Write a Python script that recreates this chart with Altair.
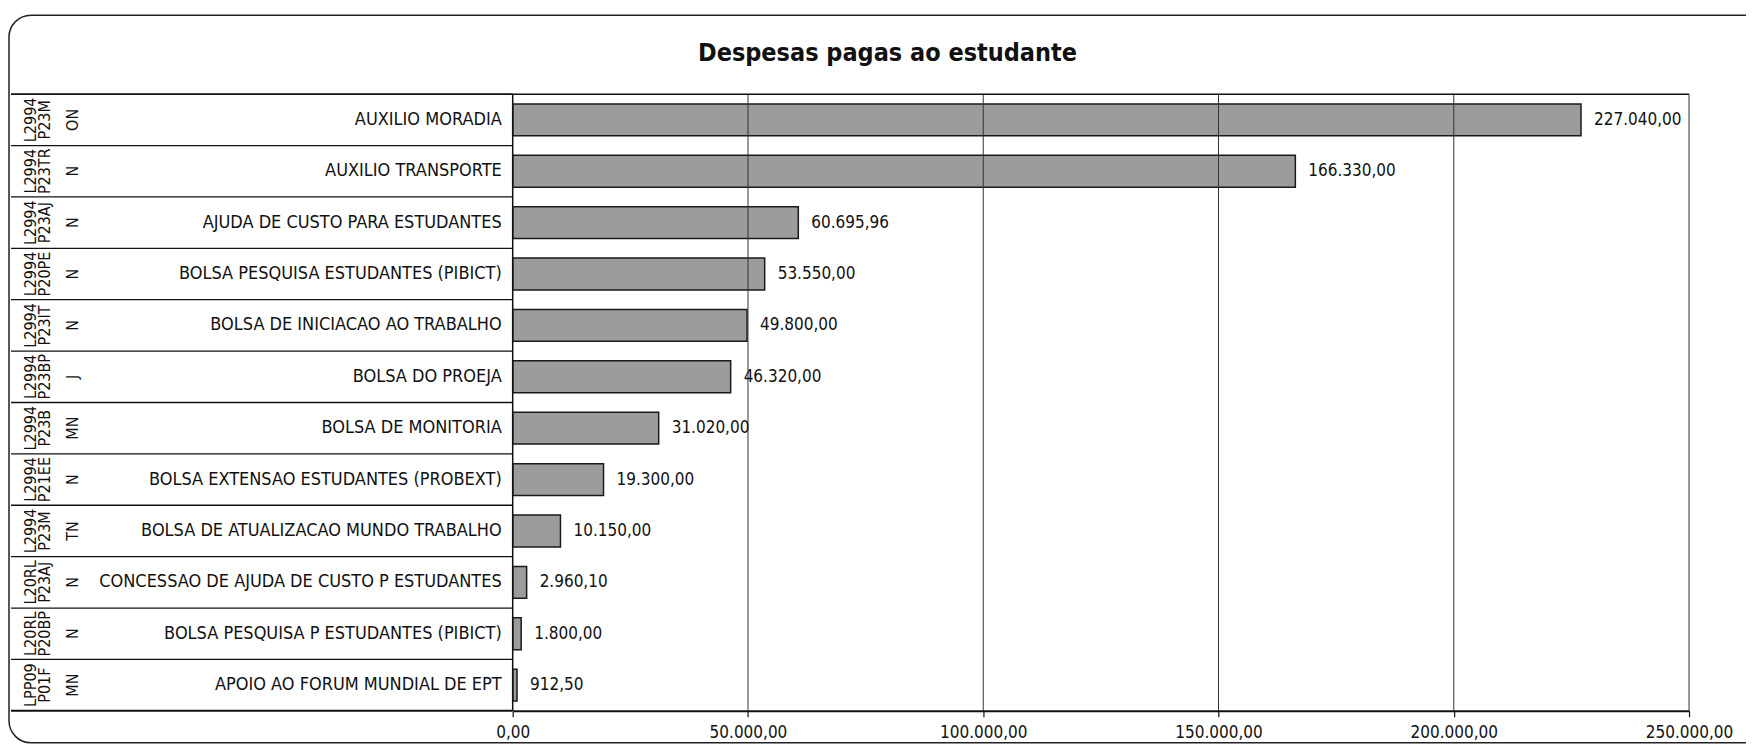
import altair as alt
import pandas as pd

# ---- data ----
codes1 = ["L2994", "L2994", "L2994", "L2994", "L2994", "L2994",
          "L2994", "L2994", "L2994", "L20RL", "L20RL", "LPP09"]
codes2 = ["P23M", "P23TR", "P23AJ", "P20PE", "P23IT", "P23BP",
          "P23B", "P21EE", "P23M", "P23AJ", "P20BP", "P01F"]
codes3 = ["ON", "N", "N", "N", "N", "J", "MN", "N", "TN", "N", "N", "MN"]
names = [
    "AUXILIO MORADIA",
    "AUXILIO TRANSPORTE",
    "AJUDA DE CUSTO PARA ESTUDANTES",
    "BOLSA PESQUISA ESTUDANTES (PIBICT)",
    "BOLSA DE INICIACAO AO TRABALHO",
    "BOLSA DO PROEJA",
    "BOLSA DE MONITORIA",
    "BOLSA EXTENSAO ESTUDANTES (PROBEXT)",
    "BOLSA DE ATUALIZACAO MUNDO TRABALHO",
    "CONCESSAO DE AJUDA DE CUSTO P ESTUDANTES",
    "BOLSA PESQUISA P ESTUDANTES (PIBICT)",
    "APOIO AO FORUM MUNDIAL DE EPT",
]
values = [227040.00, 166330.00, 60695.96, 53550.00, 49800.00, 46320.00,
          31020.00, 19300.00, 10150.00, 2960.10, 1800.00, 912.50]
ticks = [0, 50000, 100000, 150000, 200000, 250000]
title_text = "Despesas pagas ao estudante"


def br(v):
    s = f"{v:,.2f}"
    return s.replace(",", "_").replace(".", ",").replace("_", ".")


df = pd.DataFrame({
    "c1": codes1, "c2": codes2, "c3": codes3,
    "name": names, "value": values,
    "label": [br(v) for v in values],
})
df_ticks = pd.DataFrame({"t": ticks})

FONT = "DejaVu Sans Condensed"
W, H = 1741, 702
X0, X1 = 504, 1681
Y0, Y1 = 85, 702
XL = 2

xscale = alt.Scale(domain=[0, 250000], range=[X0, X1], nice=False, zero=True)
yscale = alt.Scale(domain=names, range=[Y0, Y1], paddingInner=0, paddingOuter=0)

label_expr = ("replace(replace(replace(format(datum.value, ',.2f'), regexp(',', 'g'), '_'),"
              " regexp('[.]', 'g'), ','), regexp('_', 'g'), '.')")

xaxis = alt.Axis(
    values=ticks, labelExpr=label_expr, grid=False, title=None,
    domain=True, domainColor="#111", domainWidth=2,
    ticks=True, tickColor="#111", tickSize=6, tickWidth=1.2,
    labelFont=FONT, labelFontSize=17, labelColor="#111", labelPadding=8,
    labelFlush=False, labelOverlap=False,
)


def X(field):
    return alt.X(field, scale=xscale, axis=xaxis)


def Y(**kw):
    return alt.Y("name:N", sort=names, scale=yscale, axis=None, **kw)


base = alt.Chart(df)
one = pd.DataFrame({"k": [0]})

frame = alt.Chart(one).mark_rect(
    fill=None, stroke="#222", strokeWidth=1.5,
    cornerRadiusTopLeft=22, cornerRadiusBottomLeft=22,
    cornerRadiusTopRight=0, cornerRadiusBottomRight=0,
).encode(x=alt.value(0), x2=alt.value(1739), y=alt.value(6), y2=alt.value(734))

frame_hide = alt.Chart(one).mark_rule(
    color="white", strokeWidth=2
).encode(x=alt.value(1739), y=alt.value(0), y2=alt.value(740))

title = alt.Chart(pd.DataFrame({"t": [title_text]})).mark_text(
    font=FONT, fontSize=25, fontWeight="bold", color="#111",
    align="center", baseline="middle",
).encode(x=alt.value(879), y=alt.value(44), text="t:N")

grid = alt.Chart(df_ticks).transform_filter("datum.t > 0").mark_rule(
    color="#333", strokeWidth=1
).encode(
    x=X("t:Q"),
    y=alt.value(Y0), y2=alt.value(Y1),
)

row_lines = base.mark_rule(color="#111", strokeWidth=1.3).encode(
    y=Y(bandPosition=0),
    x=alt.value(XL), x2=alt.value(X0),
)

top_line = base.transform_filter(alt.datum.name == names[0]).mark_rule(
    color="#111", strokeWidth=1.5
).encode(
    y=Y(bandPosition=0),
    x=alt.value(XL), x2=alt.value(X1),
)

bottom_left = alt.Chart(one).mark_rule(
    color="#111", strokeWidth=2
).encode(x=alt.value(XL), x2=alt.value(X0), y=alt.value(Y1))

left_axis = alt.Chart(one).mark_rule(
    color="#111", strokeWidth=1.5
).encode(x=alt.value(X0), y=alt.value(Y0), y2=alt.value(Y1))

bars = base.mark_bar(
    height={"band": 0.62}, fill="#9c9c9c", stroke="#1a1a1a", strokeWidth=1.5
).encode(
    x=X("value:Q"),
    y=Y(),
)

values_text = base.mark_text(
    font=FONT, fontSize=17, color="#111", align="left", baseline="middle", dx=13
).encode(
    x=X("value:Q"),
    y=Y(),
    text="label:N",
)

names_text = base.mark_text(
    font=FONT, fontSize=18, color="#111", align="right", baseline="middle"
).encode(
    x=alt.value(493),
    y=Y(),
    text="name:N",
)


def code_layer(field, xpos):
    return base.mark_text(
        font=FONT, fontSize=16, color="#111", angle=270,
        align="center", baseline="middle",
    ).encode(
        x=alt.value(xpos),
        y=Y(),
        text=f"{field}:N",
    )


chart = alt.layer(
    bars, frame, frame_hide, title, grid, row_lines, top_line, bottom_left,
    left_axis, values_text, names_text,
    code_layer("c1", 22), code_layer("c2", 36), code_layer("c3", 64),
).properties(
    width=W, height=H, padding=0, background="white"
).configure_view(stroke=None)

chart.save("out.html", embed_options={"renderer": "svg", "actions": False})
